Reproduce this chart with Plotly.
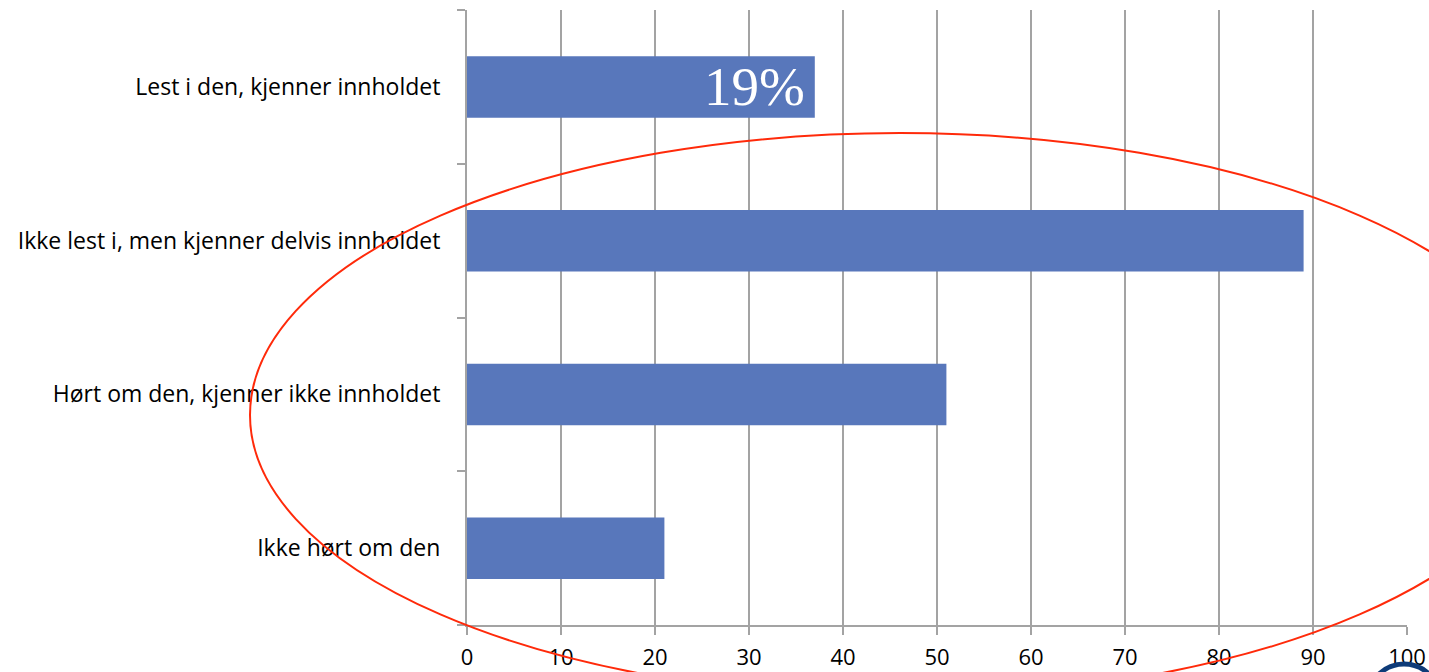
import plotly.graph_objects as go

categories = [
    "Ikke hørt om den",
    "Hørt om den, kjenner ikke innholdet",
    "Ikke lest i, men kjenner delvis innholdet",
    "Lest i den, kjenner innholdet",
]
values = [21, 51, 89, 37]
highlight_label = "19%"
x_ticks = [0, 10, 20, 30, 40, 50, 60, 70, 80, 90, 100]

W, H = 1429, 672
L, R, T, B = 467, 22, 10, 47

fig = go.Figure()
fig.add_trace(go.Bar(
    x=values, y=categories, orientation="h", width=0.4,
    marker=dict(color="#5877bb", line=dict(width=0)),
    showlegend=False, hoverinfo="x+y",
))

fig.add_annotation(x=values[3], y=categories[3], text=highlight_label,
                   xanchor="right", yanchor="middle", xshift=-8, showarrow=False,
                   font=dict(family="Liberation Serif", size=55, color="white"))

# red hand-drawn ellipse and the logo edge, in paper coords
def px_x(p):
    return (p - L) / (W - L - R)

def px_y(p):
    return (H - B - p) / (H - T - B)

fig.add_shape(type="circle", xref="paper", yref="paper",
              x0=px_x(250), x1=px_x(1550), y0=px_y(697), y1=px_y(133),
              line=dict(color="#ff2a0a", width=2), layer="above")
fig.add_shape(type="circle", xref="paper", yref="paper",
              x0=px_x(1368), x1=px_x(1440), y0=px_y(736), y1=px_y(664),
              line=dict(color="#0e3b78", width=5), layer="above")

fig.update_layout(
    width=W, height=H,
    margin=dict(l=L, r=R, t=T, b=B, autoexpand=False),
    paper_bgcolor="white", plot_bgcolor="white",
    font=dict(family="Open Sans", size=23, color="black"),
    bargap=0.6,
)
fig.update_xaxes(
    range=[0, 100], tickvals=x_ticks, showgrid=True, gridcolor="#a3a3a3", gridwidth=2,
    showline=True, linecolor="#a3a3a3", linewidth=2,
    ticks="outside", ticklen=8, tickcolor="#a3a3a3", tickwidth=2,
    ticklabelstandoff=4, zeroline=False, tickfont=dict(size=22), automargin=False,
)
fig.update_yaxes(
    categoryorder="array", categoryarray=categories,
    showgrid=False, showline=True, linecolor="#a3a3a3", linewidth=2,
    ticks="outside", ticklen=8, tickcolor="#a3a3a3", tickwidth=2,
    tickson="boundaries", ticklabelstandoff=20, automargin=False,
)

fig.write_html("out.html", config={"displayModeBar": False},
               post_script="document.body.style.margin='0';")
